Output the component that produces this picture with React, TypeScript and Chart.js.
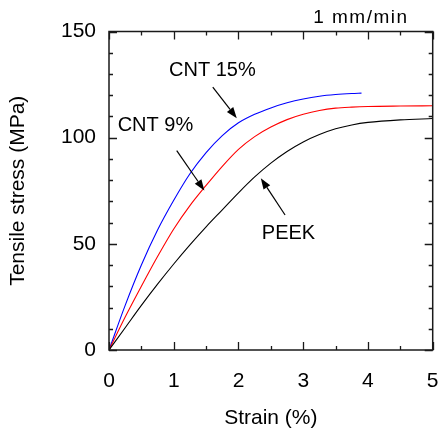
import { useEffect, useRef } from 'react';
import { Chart, registerables } from 'chart.js';

Chart.register(...registerables);

// ---- data (strain in %, stress in MPa) ----
const peekStrain = [0, 0.25, 0.5, 0.75, 1.0, 1.25, 1.5, 1.75, 2.0, 2.25, 2.5, 2.75, 3.0, 3.25, 3.5, 3.75, 4.0, 4.5, 5.0];
const peekStress = [0, 10.5, 21, 31, 40.5, 49.5, 58, 66, 74, 81.5, 88, 93.5, 98, 101.5, 104.2, 106, 107.2, 108.4, 109];

const cnt9Strain = [0, 0.25, 0.5, 0.75, 1.0, 1.25, 1.5, 1.75, 2.0, 2.25, 2.5, 2.75, 3.0, 3.25, 3.5, 3.75, 4.0, 4.5, 5.0];
const cnt9Stress = [0, 15.5, 30, 44, 57, 68, 77.5, 86.5, 94.5, 100.5, 105, 108.5, 111, 112.8, 113.9, 114.4, 114.7, 114.9, 115];

const cnt15Strain = [0, 0.25, 0.5, 0.75, 1.0, 1.25, 1.5, 1.75, 2.0, 2.25, 2.5, 2.75, 3.0, 3.25, 3.5, 3.75, 3.9];
const cnt15Stress = [0, 21, 40, 56.5, 70.5, 83, 93, 101, 107, 111, 114, 116.4, 118.2, 119.5, 120.3, 120.8, 121];

const seriesNames = ['PEEK', 'CNT 9%', 'CNT 15%'];

const xMajorTicks = [0, 1, 2, 3, 4, 5];
const yMajorTicks = [0, 50, 100, 150];
const xMinorStep = 0.5;
const yMinorStep = 10;

const xTitle = 'Strain (%)';
const yTitle = 'Tensile stress (MPa)';
const rateLabel = '1 mm/min';

// annotations in data coordinates
const annotationTexts = ['CNT 15%', 'CNT 9%', 'PEEK'];
const annotationTextX = [0.927, 0.134, 2.36];
const annotationTextY = [129.1, 103.0, 52.2];
const arrowTailX = [1.603, 1.046, 2.72];
const arrowTailY = [123.8, 93.9, 63.6];
const arrowTipX = [1.974, 1.473, 2.345];
const arrowTipY = [109.2, 75.1, 80.9];
const rateLabelX = 3.153;
const rateLabelY = 154.0;

const FONT = "'Liberation Sans', Arial, Helvetica, sans-serif";

const toXY = (xs: number[], ys: number[]) => xs.map((x, i) => ({ x, y: ys[i] }));

const framePlugin = {
  id: 'frameAndNotes',
  afterDatasetsDraw(chart: any) {
    const { ctx, chartArea } = chart;
    const xs = chart.scales.x;
    const ys = chart.scales.y;
    const { left, right, top, bottom } = chartArea;
    ctx.save();
    ctx.strokeStyle = '#1a1a1a';
    ctx.lineWidth = 1.5;
    ctx.strokeRect(left, top, right - left, bottom - top);

    ctx.lineWidth = 1.3;
    // x ticks
    for (let v = xs.min; v <= xs.max + 1e-9; v += xMinorStep) {
      const major = xMajorTicks.some((m) => Math.abs(m - v) < 1e-6);
      const len = major ? 8 : 4;
      const px = Math.round(xs.getPixelForValue(v)) + 0.5;
      ctx.beginPath();
      ctx.moveTo(px, bottom);
      ctx.lineTo(px, bottom - len);
      ctx.moveTo(px, top);
      ctx.lineTo(px, top + len);
      ctx.stroke();
    }
    // y ticks
    for (let v = ys.min; v <= ys.max + 1e-9; v += yMinorStep) {
      const major = yMajorTicks.some((m) => Math.abs(m - v) < 1e-6);
      const len = major ? 8 : 4;
      const py = Math.round(ys.getPixelForValue(v)) + 0.5;
      ctx.beginPath();
      ctx.moveTo(left, py);
      ctx.lineTo(left + len, py);
      ctx.moveTo(right, py);
      ctx.lineTo(right - len, py);
      ctx.stroke();
    }

    // annotation texts & arrows
    ctx.fillStyle = '#000';
    ctx.strokeStyle = '#000';
    ctx.font = `20px ${FONT}`;
    ctx.textAlign = 'left';
    ctx.textBaseline = 'alphabetic';
    annotationTexts.forEach((t, i) => {
      ctx.fillText(t, xs.getPixelForValue(annotationTextX[i]), ys.getPixelForValue(annotationTextY[i]));
      const x0 = xs.getPixelForValue(arrowTailX[i]);
      const y0 = ys.getPixelForValue(arrowTailY[i]);
      const x1 = xs.getPixelForValue(arrowTipX[i]);
      const y1 = ys.getPixelForValue(arrowTipY[i]);
      const ang = Math.atan2(y1 - y0, x1 - x0);
      const headLen = 11;
      const headHalf = 4;
      const bx = x1 - headLen * Math.cos(ang);
      const by = y1 - headLen * Math.sin(ang);
      ctx.lineWidth = 1.2;
      ctx.beginPath();
      ctx.moveTo(x0, y0);
      ctx.lineTo(bx, by);
      ctx.stroke();
      ctx.beginPath();
      ctx.moveTo(x1, y1);
      ctx.lineTo(bx + headHalf * Math.sin(ang), by - headHalf * Math.cos(ang));
      ctx.lineTo(bx - headHalf * Math.sin(ang), by + headHalf * Math.cos(ang));
      ctx.closePath();
      ctx.fill();
    });

    ctx.font = `19px ${FONT}`;
    try { (ctx as any).letterSpacing = '1.5px'; } catch (e) { /* ignore */ }
    ctx.fillText(rateLabel, xs.getPixelForValue(rateLabelX), ys.getPixelForValue(rateLabelY));
    try { (ctx as any).letterSpacing = '0px'; } catch (e) { /* ignore */ }
    ctx.restore();
  },
};

export default function App() {
  const canvasRef = useRef<HTMLCanvasElement | null>(null);

  useEffect(() => {
    if (!canvasRef.current) return;
    const chart = new Chart(canvasRef.current, {
      type: 'scatter',
      data: {
        datasets: [
          { label: seriesNames[0], data: toXY(peekStrain, peekStress), borderColor: '#000000' },
          { label: seriesNames[1], data: toXY(cnt9Strain, cnt9Stress), borderColor: '#ff0000' },
          { label: seriesNames[2], data: toXY(cnt15Strain, cnt15Stress), borderColor: '#0000ff' },
        ].map((d) => ({
          ...d,
          showLine: true,
          pointRadius: 0,
          borderWidth: 1.1,
          cubicInterpolationMode: 'monotone' as const,
          fill: false,
        })),
      },
      options: {
        responsive: false,
        animation: false,
        devicePixelRatio: 1,
        layout: { padding: { top: 31.5, right: 7.3, bottom: 0, left: 0 } },
        plugins: { legend: { display: false }, tooltip: { enabled: false } },
        scales: {
          x: {
            type: 'linear',
            min: 0,
            max: 5,
            grid: { display: false, drawTicks: false },
            border: { display: false },
            ticks: {
              stepSize: 1,
              padding: 19,
              color: '#000',
              font: { family: FONT, size: 21 },
              maxRotation: 0,
              autoSkip: false,
              callback: (v: any) => (xMajorTicks.includes(Number(v)) ? String(v) : ''),
            },
            title: { display: true, text: xTitle, color: '#000', font: { family: FONT, size: 21 }, padding: { top: 0, bottom: 3 } },
            afterFit: (s: any) => { s.height = 84; s.paddingLeft = 0; s.paddingRight = 0; },
          },
          y: {
            type: 'linear',
            min: 0,
            max: 150,
            grid: { display: false, drawTicks: false },
            border: { display: false },
            ticks: {
              stepSize: 50,
              padding: 13,
              color: '#000',
              font: { family: FONT, size: 21 },
              autoSkip: false,
              callback: (v: any) => (yMajorTicks.includes(Number(v)) ? String(v) : ''),
            },
            title: { display: true, text: yTitle, color: '#000', font: { family: FONT, size: 21 }, padding: { top: 6, bottom: 0 } },
            afterFit: (s: any) => { s.width = 109; s.paddingTop = 0; s.paddingBottom = 0; },
          },
        },
      },
      plugins: [framePlugin],
    });
    return () => chart.destroy();
  }, []);

  return (
    <div style={{ position: 'absolute', left: 0, top: 0, width: 440, height: 434, background: '#fff' }}>
      <canvas ref={canvasRef} width={440} height={434} style={{ display: 'block' }} />
    </div>
  );
}
